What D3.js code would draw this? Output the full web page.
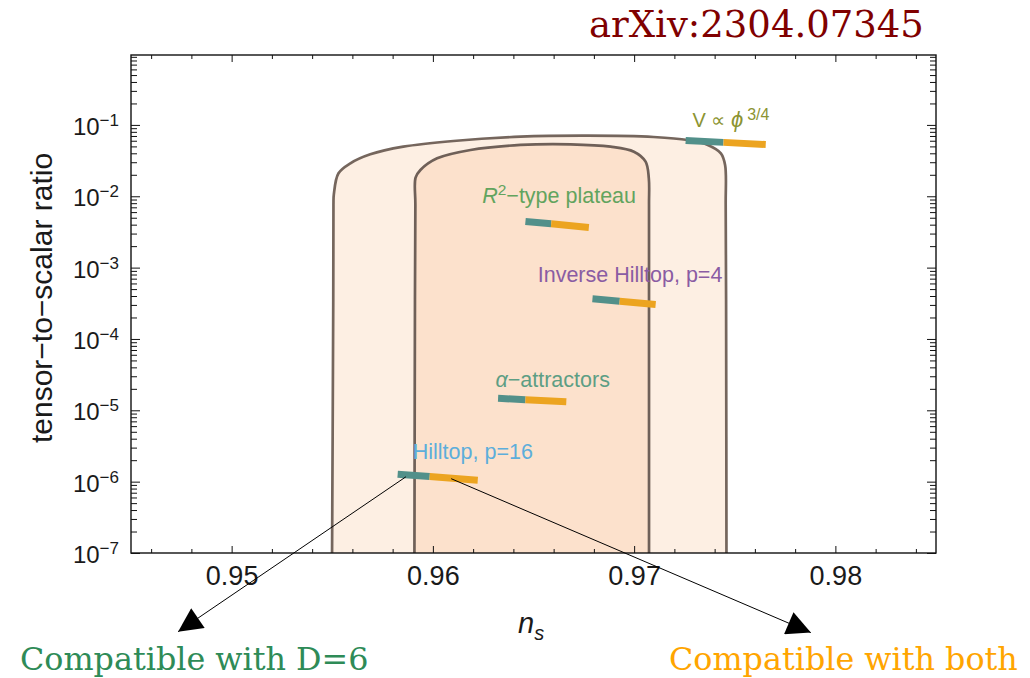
<!DOCTYPE html>
<html>
<head>
<meta charset="utf-8">
<script src="https://cdn.jsdelivr.net/npm/d3@7"></script>
<style>
  body { margin: 0; background: #fff; }
  svg { display: block; }
</style>
</head>
<body>
<script>
// canvas
let width = 1030, height = 678;

let margin = { top: 55, bottom: 125, left: 131, right: 94 };

// x ticks (n_s) and y decades (log10 r)
const nsTicks = [0.95, 0.96, 0.97, 0.98];
const nsMinor = d3.range(0.946, 0.9845, 0.002).filter(v => nsTicks.every(t => Math.abs(t - v) > 1e-6));
const rDecades = [-7, -6, -5, -4, -3, -2, -1];

// confidence contours as [n_s, log10 r]
const outerContour = [
  [0.95498, -7.6], [0.95505, -3.45], [0.95506, -2.12], [0.95508, -1.97],
  [0.95531, -1.678], [0.9559, -1.538], [0.95689, -1.412], [0.95853, -1.305],
  [0.96102, -1.225], [0.96435, -1.165], [0.96769, -1.151], [0.97097, -1.169],
  [0.97266, -1.211], [0.97366, -1.281], [0.97431, -1.398], [0.97452, -1.562],
  [0.97455, -2.12], [0.97457, -3.45], [0.97459, -7.6]
];
const innerContour = [
  [0.95908, -7.6], [0.95911, -3.45], [0.95913, -2.12], [0.95914, -1.74],
  [0.95938, -1.632], [0.96021, -1.468], [0.96187, -1.351], [0.96435, -1.281],
  [0.96684, -1.272], [0.96883, -1.305], [0.96999, -1.375], [0.97057, -1.515],
  [0.97073, -1.748], [0.97074, -2.12], [0.97074, -3.45], [0.97074, -7.6]
];

// model predictions: teal part (start -> split), orange part (split -> end)
const models = ["V ∝ ϕ^3/4", "R2-type plateau", "Inverse Hilltop, p=4", "α-attractors", "Hilltop, p=16"];
const nsStart = [0.97256, 0.96460, 0.96793, 0.96324, 0.95825];
const nsSplit = [0.97444, 0.96588, 0.96928, 0.96460, 0.95984];
const nsEnd   = [0.97654, 0.96775, 0.97107, 0.96663, 0.96223];
const rStart  = [0.0605, 4.44e-3, 3.65e-4, 1.47e-5, 1.27e-6];
const rEnd    = [0.0532, 3.66e-3, 3.05e-4, 1.32e-5, 1.05e-6];

// label anchors (left edge, baseline) in data coords
const labelNs = [0.97290, 0.96245, 0.96521, 0.96311, 0.95900];
const labelR  = [0.0935, 7.98e-3, 6.37e-4, 2.11e-5, 2.06e-6];
const labelColors = ["#8c9432", "#62a45e", "#8a5ca3", "#5d9e84", "#5caedb"];

// arrows from the Hilltop bar to the notes below
const arrowFrom = [[0.95866, 1.17e-6], [0.96091, 1.10e-6]];
const arrowTo   = [[0.94734, 7.9e-9], [0.97878, 7.66e-9]];

const svg = d3.select('body')
  .append('svg')
  .attr('width', width)
  .attr('height', height);

const xScale = d3.scaleLinear()
  .domain([0.945, 0.985])
  .range([margin.left, width - margin.right]);

const yScale = d3.scaleLog()
  .domain([1e-7, Math.pow(10, -0.02)])
  .range([height - margin.bottom, margin.top]);

const plotW = width - margin.left - margin.right;
const plotH = height - margin.top - margin.bottom;

svg.append("clipPath").attr("id", "plotclip")
  .append("rect")
  .attr("x", margin.left).attr("y", margin.top)
  .attr("width", plotW).attr("height", plotH);

// contours
const contourLine = d3.line()
  .x(d => xScale(d[0]))
  .y(d => yScale(Math.pow(10, d[1])))
  .curve(d3.curveCatmullRom.alpha(0.5));

const regions = svg.append("g").attr("clip-path", "url(#plotclip)");
regions.append("path")
  .attr("d", contourLine(outerContour) + "Z")
  .attr("fill", "#fdefe3")
  .attr("stroke", "#75665d")
  .attr("stroke-width", 2.7);
regions.append("path")
  .attr("d", contourLine(innerContour) + "Z")
  .attr("fill", "#fce1cc")
  .attr("stroke", "#6f6058")
  .attr("stroke-width", 2.7);

// model bars
const bars = svg.append("g");
models.forEach((m, i) => {
  const ls = Math.log10(rStart[i]), le = Math.log10(rEnd[i]);
  const rSplit = Math.pow(10, ls + (le - ls) * (nsSplit[i] - nsStart[i]) / (nsEnd[i] - nsStart[i]));
  bars.append("line")
    .attr("x1", xScale(nsStart[i])).attr("y1", yScale(rStart[i]))
    .attr("x2", xScale(nsSplit[i])).attr("y2", yScale(rSplit))
    .attr("stroke", "#52908a").attr("stroke-width", 7);
  bars.append("line")
    .attr("x1", xScale(nsSplit[i])).attr("y1", yScale(rSplit))
    .attr("x2", xScale(nsEnd[i])).attr("y2", yScale(rEnd[i]))
    .attr("stroke", "#eca420").attr("stroke-width", 7);
});

// model labels
const labelFont = "'Liberation Sans', Arial, sans-serif";
models.forEach((m, i) => {
  const t = svg.append("text")
    .attr("x", xScale(labelNs[i]))
    .attr("y", yScale(labelR[i]))
    .attr("fill", labelColors[i])
    .style("font-family", labelFont)
    .style("font-size", "21.5px");
  if (i === 0) {
    t.style("font-size", "20px");
    t.append("tspan").text("V \u221D ");
    t.append("tspan").style("font-style", "italic").style("font-size", "22px").text("\u03D5");
    t.append("tspan").attr("dx", 4).attr("dy", -7).style("font-size", "16px").text("3/4");
  } else if (i === 1) {
    t.append("tspan").style("font-style", "italic").text("R");
    t.append("tspan").attr("dy", -8).style("font-size", "15.5px").text("2");
    t.append("tspan").attr("dy", 8).text("\u2212type plateau");
  } else if (i === 3) {
    t.append("tspan").style("font-style", "italic").text("\u03B1");
    t.append("tspan").text("\u2212attractors");
  } else {
    t.text(m);
  }
});

// frame
svg.append("rect")
  .attr("x", margin.left).attr("y", margin.top)
  .attr("width", plotW).attr("height", plotH)
  .attr("fill", "none")
  .attr("stroke", "#111")
  .attr("stroke-width", 1.4);

// x axes (inward ticks, top and bottom)
const tickFont = "'Liberation Sans', Arial, sans-serif";
const bottomMajor = svg.append("g")
  .attr("class", "axis")
  .attr("transform", `translate(0,${height - margin.bottom})`)
  .call(d3.axisBottom(xScale).tickValues(nsTicks).tickSize(-7).tickPadding(13).tickFormat(d3.format(".2f")));
svg.append("g")
  .attr("transform", `translate(0,${height - margin.bottom})`)
  .call(d3.axisBottom(xScale).tickValues(nsMinor).tickSize(-4).tickFormat(""));
svg.append("g")
  .attr("transform", `translate(0,${margin.top})`)
  .call(d3.axisTop(xScale).tickValues(nsTicks).tickSize(-7).tickFormat(""));
svg.append("g")
  .attr("transform", `translate(0,${margin.top})`)
  .call(d3.axisTop(xScale).tickValues(nsMinor).tickSize(-4).tickFormat(""));

// y axes (log)
const yMajor = rDecades.map(k => Math.pow(10, k));
const yMinor = [];
rDecades.forEach(k => {
  for (let m = 2; m <= 9; m++) yMinor.push(m * Math.pow(10, k));
});
const yMinorIn = yMinor.filter(v => v <= yScale.domain()[1]);

svg.append("g")
  .attr("transform", `translate(${margin.left},0)`)
  .call(d3.axisLeft(yScale).tickValues(yMajor).tickSize(-9).tickFormat(""));
svg.append("g")
  .attr("transform", `translate(${margin.left},0)`)
  .call(d3.axisLeft(yScale).tickValues(yMinorIn).tickSize(-6).tickFormat(""));
svg.append("g")
  .attr("transform", `translate(${width - margin.right},0)`)
  .call(d3.axisRight(yScale).tickValues(yMajor).tickSize(-9).tickFormat(""));
svg.append("g")
  .attr("transform", `translate(${width - margin.right},0)`)
  .call(d3.axisRight(yScale).tickValues(yMinorIn).tickSize(-6).tickFormat(""));

svg.selectAll(".domain").remove();
svg.selectAll(".tick line").attr("stroke", "#111").attr("stroke-width", 1);
bottomMajor.selectAll("text")
  .style("font-family", tickFont)
  .style("font-size", "27px")
  .attr("fill", "#1a1a1a");

// y tick labels 10^k
rDecades.forEach(k => {
  const t = svg.append("text")
    .attr("x", margin.left - 12)
    .attr("y", yScale(Math.pow(10, k)) + 10)
    .attr("text-anchor", "end")
    .attr("fill", "#1a1a1a")
    .style("font-family", tickFont)
    .style("font-size", "24px");
  t.append("tspan").text("10");
  t.append("tspan").attr("dy", -9).style("font-size", "17px").text("\u2212" + Math.abs(k));
});

// axis titles
svg.append("text")
  .attr("transform", `translate(52,${(margin.top + height - margin.bottom) / 2 - 6})rotate(-90)`)
  .style("text-anchor", "middle")
  .style("font-family", tickFont)
  .style("font-size", "30px")
  .attr("fill", "#1a1a1a")
  .text("tensor\u2212to\u2212scalar ratio");

const xt = svg.append("text")
  .attr("x", 518)
  .attr("y", 633)
  .style("font-family", tickFont)
  .attr("fill", "#1a1a1a");
xt.append("tspan").style("font-style", "italic").style("font-size", "29px").text("n");
xt.append("tspan").attr("dy", 7).style("font-style", "italic").style("font-size", "20px").text("s");

// arrows
svg.append("defs").append("marker")
  .attr("id", "head")
  .attr("viewBox", "0 0 10 10")
  .attr("refX", 10).attr("refY", 5)
  .attr("markerUnits", "userSpaceOnUse")
  .attr("markerWidth", 30).attr("markerHeight", 24)
  .attr("orient", "auto")
  .append("path")
  .attr("d", "M0,0 L10,5 L0,10 Z")
  .attr("fill", "#000");

arrowFrom.forEach((a, i) => {
  svg.append("line")
    .attr("x1", xScale(a[0])).attr("y1", yScale(a[1]))
    .attr("x2", xScale(arrowTo[i][0])).attr("y2", yScale(arrowTo[i][1]))
    .attr("stroke", "#000")
    .attr("stroke-width", 1)
    .attr("marker-end", "url(#head)");
});

// notes
const serif = "'DejaVu Serif', serif";
svg.append("text")
  .attr("x", 589).attr("y", 37)
  .attr("fill", "#800000")
  .style("font-family", serif)
  .style("font-size", "37px")
  .text("arXiv:2304.07345");

svg.append("text")
  .attr("x", 20).attr("y", 670)
  .attr("fill", "#2e8b57")
  .style("font-family", serif)
  .style("font-size", "31.8px")
  .text("Compatible with D=6");

svg.append("text")
  .attr("x", 669).attr("y", 670)
  .attr("fill", "#ffa500")
  .style("font-family", serif)
  .style("font-size", "31.8px")
  .text("Compatible with both");
</script>
</body>
</html>
